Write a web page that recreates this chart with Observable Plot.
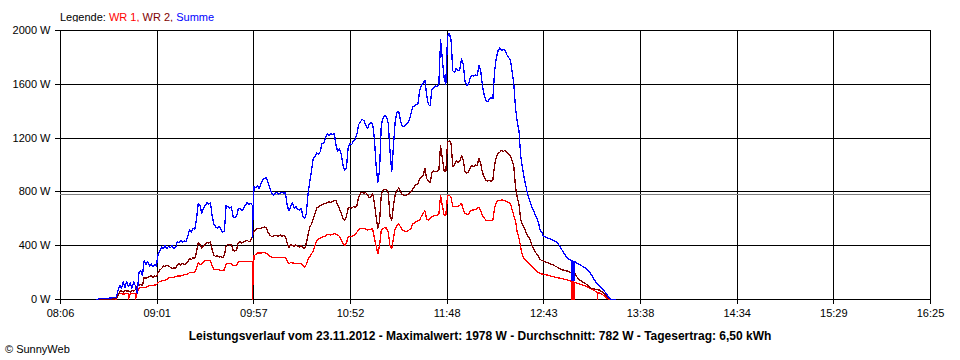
<!DOCTYPE html>
<html><head><meta charset="utf-8">
<script src="https://cdn.jsdelivr.net/npm/d3@7"></script>
<script src="https://cdn.jsdelivr.net/npm/@observablehq/plot@0.6"></script>
<style>
body{margin:0;background:#fff;font-family:"Liberation Sans",Arial,sans-serif;width:960px;height:360px;position:relative;overflow:hidden;color:#000}
#legend{position:absolute;left:60px;top:10px;font-size:11px;line-height:14px;white-space:nowrap}
#chart{position:absolute;left:0;top:22px}
#caption{position:absolute;left:0;width:960px;top:329px;text-align:center;font-weight:bold;font-size:12px;line-height:15px;white-space:nowrap}
#copy{position:absolute;left:5px;top:342px;font-size:11px;line-height:14px}
</style></head><body>
<div id="legend"></div>
<div id="chart"></div>
<div id="caption"></div>
<div id="copy">© SunnyWeb</div>
<script>
// ---- data ----
const seriesNames = ["WR 1", "WR 2", "Summe"];
const seriesColors = ["#ff0000", "#800000", "#0000ff"];
const xTickLabels = ["08:06","09:01","09:57","10:52","11:48","12:43","13:38","14:34","15:29","16:25"];
const yTicks = [0, 400, 800, 1200, 1600, 2000];
const dateLabel = "23.11.2012";
const maxW = 1978;
const averageW = 782;
const dailyYield = "6,50";

const wr1 = [
["08:27",0],["08:38",0],["08:39",40],["08:40",45],["08:42",40],["08:44",45],["08:45",40],["08:45",0],["08:46",45],["08:48",45],["08:49",40],["08:49",0],["08:50",50],
["08:51",85],["08:53",90],["08:55",90],["08:56",95],["08:57",105],["08:59",105],["09:01",110],["09:02",125],["09:03",135],["09:05",140],["09:07",150],["09:08",160],
["09:09",165],["09:11",165],["09:13",175],["09:15",175],["09:17",185],["09:19",190],["09:20",200],["09:22",200],["09:23",205],["09:24",230],["09:25",275],["09:26",260],
["09:27",265],["09:28",280],["09:29",290],["09:31",290],["09:32",285],["09:33",250],["09:34",220],["09:36",225],["09:38",215],["09:40",220],["09:41",265],["09:42",270],
["09:44",270],["09:45",250],["09:47",255],["09:48",280],["09:50",280],["09:52",285],["09:54",280],["09:56",280],["09:56",0],["09:57",325],["09:58",335],["09:59",345],
["10:01",345],["10:03",350],["10:04",345],["10:06",320],["10:08",310],["10:10",310],["10:13",315],["10:15",310],["10:16",290],["10:17",265],["10:18",275],["10:20",270],
["10:22",265],["10:24",270],["10:25",255],["10:26",240],["10:27",260],["10:28",300],["10:29",320],["10:30",340],["10:31",360],["10:32",400],["10:33",440],["10:34",450],
["10:35",455],["10:36",465],["10:38",470],["10:39",485],["10:41",480],["10:43",490],["10:44",485],["10:46",470],["10:47",440],["10:49",400],["10:50",420],["10:51",465],
["10:53",470],["10:55",480],["10:56",500],["10:57",520],["10:58",530],["11:00",530],["11:02",515],["11:03",520],["11:05",525],["11:06",460],["11:07",400],["11:08",340],
["11:09",400],["11:10",520],["11:12",535],["11:13",530],["11:14",500],["11:15",400],["11:16",380],["11:17",460],["11:18",530],["11:20",565],["11:21",540],["11:22",515],
["11:24",505],["11:25",510],["11:27",525],["11:28",560],["11:30",580],["11:32",590],["11:33",620],["11:34",640],["11:35",660],["11:36",600],["11:37",590],["11:39",615],
["11:41",625],["11:43",630],["11:44",775],["11:45",700],["11:46",630],["11:47",625],["11:48",770],["11:49",775],["11:50",760],["11:51",690],["11:53",690],["11:55",700],
["11:56",715],["11:57",670],["11:58",640],["12:00",630],["12:01",660],["12:04",670],["12:06",685],["12:07",660],["12:08",625],["12:10",590],["12:13",585],["12:14",590],
["12:15",680],["12:16",720],["12:17",735],["12:19",740],["12:21",735],["12:23",720],["12:24",715],["12:25",670],["12:26",625],["12:27",580],["12:28",500],["12:29",455],
["12:30",385],["12:31",325],["12:32",305],["12:34",275],["12:37",240],["12:40",200],["12:42",190],["12:45",182],["12:50",165],["12:54",155],["12:58",140],
["12:59",135],["12:59",0],["12:59",135],["13:00",130],["13:00",0],["13:00",130],["13:01",127],["13:01",0],["13:01",125],["13:03",120],["13:07",100],["13:10",82],
["13:13",60],["13:14",50],["13:14",0],["13:14",50],["13:16",45],["13:18",25],["13:20",5],["13:21",0]
];

const wr2 = [
["08:27",0],["08:38",5],["08:39",30],["08:40",60],["08:41",65],["08:42",55],["08:43",70],["08:44",60],["08:45",65],["08:46",55],["08:47",70],["08:48",60],["08:49",75],
["08:50",100],["08:51",105],["08:52",110],["08:53",105],["08:54",165],["08:55",155],["08:56",165],["08:57",170],["08:58",180],["08:59",165],["09:00",175],["09:01",170],
["09:02",200],["09:03",220],["09:04",230],["09:05",250],["09:06",245],["09:07",255],["09:08",250],["09:09",240],["09:10",230],["09:11",235],["09:12",230],["09:13",260],
["09:14",265],["09:15",255],["09:16",270],["09:17",260],["09:18",265],["09:19",280],["09:20",305],["09:21",295],["09:22",310],["09:23",305],["09:24",350],["09:25",425],
["09:26",410],["09:27",380],["09:28",400],["09:29",410],["09:30",425],["09:31",420],["09:32",430],["09:33",370],["09:34",330],["09:35",320],["09:36",325],["09:37",315],
["09:38",320],["09:39",310],["09:40",330],["09:41",400],["09:42",410],["09:43",405],["09:44",410],["09:45",365],["09:46",360],["09:47",370],["09:48",425],["09:49",430],
["09:50",420],["09:51",430],["09:52",435],["09:53",440],["09:54",430],["09:55",435],["09:56",470],["09:57",510],["09:58",520],["09:59",530],["10:00",525],["10:01",530],
["10:02",535],["10:03",540],["10:04",535],["10:05",500],["10:06",480],["10:07",470],["10:08",470],["10:09",475],["10:10",475],["10:11",470],["10:12",480],["10:13",470],
["10:14",475],["10:15",470],["10:16",420],["10:17",385],["10:18",410],["10:19",400],["10:20",395],["10:21",405],["10:22",395],["10:23",390],["10:24",400],["10:25",385],
["10:26",380],["10:27",420],["10:28",480],["10:29",540],["10:30",560],["10:31",600],["10:32",640],["10:33",680],["10:34",690],["10:35",700],["10:36",705],["10:37",710],
["10:38",715],["10:39",720],["10:40",725],["10:41",720],["10:42",730],["10:43",735],["10:44",735],["10:45",700],["10:46",675],["10:47",640],["10:48",600],["10:49",590],
["10:50",620],["10:51",680],["10:52",685],["10:53",680],["10:54",690],["10:55",685],["10:56",700],["10:57",760],["10:58",790],["10:59",795],["11:00",790],["11:01",795],
["11:02",780],["11:03",760],["11:04",760],["11:05",790],["11:06",720],["11:07",620],["11:08",530],["11:09",580],["11:10",780],["11:11",810],["11:12",820],["11:13",815],
["11:14",790],["11:15",620],["11:16",590],["11:17",700],["11:18",780],["11:19",810],["11:20",830],["11:21",800],["11:22",780],["11:23",775],["11:24",775],["11:25",780],
["11:26",790],["11:27",800],["11:28",820],["11:29",840],["11:30",855],["11:31",860],["11:32",900],["11:33",910],["11:34",920],["11:35",975],["11:36",900],["11:37",880],
["11:38",870],["11:39",940],["11:40",955],["11:41",950],["11:42",955],["11:43",960],["11:44",1145],["11:45",1050],["11:46",960],["11:47",950],["11:48",1170],["11:49",1180],
["11:50",1160],["11:51",990],["11:52",1000],["11:53",1030],["11:54",1020],["11:55",1030],["11:56",1070],["11:57",1040],["11:58",950],["11:59",940],["12:00",950],
["12:01",980],["12:02",995],["12:03",990],["12:04",1000],["12:05",995],["12:06",1050],["12:07",1010],["12:08",945],["12:09",910],["12:10",885],["12:11",880],["12:12",885],
["12:13",880],["12:14",890],["12:15",1000],["12:16",1060],["12:17",1085],["12:18",1095],["12:19",1110],["12:20",1100],["12:21",1110],["12:22",1095],["12:23",1080],
["12:24",1070],["12:25",1030],["12:26",990],["12:27",830],["12:28",760],["12:29",700],["12:30",590],["12:31",555],["12:32",530],["12:33",500],["12:34",470],["12:35",455],
["12:36",420],["12:37",385],["12:38",360],["12:39",340],["12:40",325],["12:41",300],["12:42",290],["12:45",275],["12:48",260],["12:51",240],["12:54",220],["12:57",210],
["12:59",200],["12:59",160],["13:00",200],["13:00",160],["13:01",195],["13:03",150],["13:07",120],["13:10",85],["13:13",75],["13:15",70],["13:17",55],["13:19",30],
["13:21",5],["13:22",0]
];

const summe = [
["08:27",0],["08:29",8],["08:34",10],["08:38",15],["08:39",70],["08:40",104],["08:41",85],["08:42",130],["08:43",90],["08:44",135],["08:45",95],["08:46",125],["08:47",85],
["08:48",130],["08:49",100],["08:50",45],["08:51",200],["08:52",215],["08:53",180],["08:54",290],["08:55",260],["08:56",285],["08:57",250],["08:58",265],["08:59",245],
["09:00",260],["09:01",250],["09:02",340],["09:03",360],["09:04",390],["09:05",380],["09:06",400],["09:07",380],["09:08",395],["09:09",385],["09:10",400],["09:11",380],
["09:12",385],["09:13",430],["09:14",420],["09:15",440],["09:16",425],["09:17",435],["09:18",430],["09:19",470],["09:20",520],["09:21",500],["09:22",530],["09:23",520],
["09:24",600],["09:25",715],["09:26",700],["09:27",640],["09:28",680],["09:29",700],["09:30",720],["09:31",710],["09:32",720],["09:33",620],["09:34",560],["09:35",540],
["09:36",530],["09:37",545],["09:38",520],["09:39",500],["09:40",510],["09:41",700],["09:42",690],["09:43",680],["09:44",690],["09:45",615],["09:46",610],["09:47",620],
["09:48",675],["09:49",680],["09:50",660],["09:51",675],["09:52",700],["09:53",720],["09:54",705],["09:55",715],["09:56",700],["09:56",460],["09:57",840],["09:58",830],
["09:59",845],["10:00",825],["10:01",860],["10:02",895],["10:03",900],["10:04",905],["10:05",870],["10:06",830],["10:07",795],["10:08",775],["10:09",790],["10:10",795],
["10:11",785],["10:12",790],["10:13",795],["10:14",790],["10:15",795],["10:16",700],["10:17",660],["10:18",690],["10:19",720],["10:20",680],["10:21",690],["10:22",670],
["10:23",665],["10:24",680],["10:25",620],["10:26",600],["10:27",640],["10:28",790],["10:29",880],["10:30",960],["10:31",1050],["10:32",1060],["10:33",1090],["10:34",1080],
["10:35",1100],["10:36",1160],["10:37",1165],["10:38",1200],["10:39",1230],["10:40",1220],["10:41",1235],["10:42",1225],["10:43",1235],["10:44",1150],["10:45",1100],
["10:46",1120],["10:47",1085],["10:48",1000],["10:49",960],["10:50",980],["10:51",1130],["10:52",1160],["10:53",1150],["10:54",1180],["10:55",1190],["10:56",1230],
["10:57",1300],["10:58",1320],["10:59",1340],["11:00",1330],["11:01",1300],["11:02",1270],["11:03",1300],["11:04",1315],["11:05",1310],["11:06",1200],["11:07",1000],
["11:08",870],["11:09",960],["11:10",1300],["11:11",1350],["11:12",1370],["11:13",1360],["11:14",1310],["11:15",1100],["11:16",950],["11:17",1150],["11:18",1330],
["11:19",1390],["11:20",1400],["11:21",1330],["11:22",1290],["11:23",1285],["11:24",1300],["11:25",1310],["11:26",1330],["11:27",1380],["11:28",1430],["11:29",1440],
["11:30",1450],["11:31",1455],["11:32",1555],["11:33",1590],["11:34",1610],["11:35",1630],["11:36",1520],["11:37",1450],["11:38",1440],["11:39",1560],["11:40",1570],
["11:41",1590],["11:42",1580],["11:43",1600],["11:44",1930],["11:45",1790],["11:46",1650],["11:47",1600],["11:48",1960],["11:49",1978],["11:50",1930],["11:51",1700],
["11:52",1690],["11:53",1720],["11:54",1700],["11:55",1710],["11:56",1790],["11:57",1750],["11:58",1620],["11:59",1590],["12:00",1600],["12:01",1650],["12:02",1665],
["12:03",1660],["12:04",1670],["12:05",1665],["12:06",1740],["12:07",1700],["12:08",1590],["12:09",1520],["12:10",1480],["12:11",1470],["12:12",1490],["12:13",1500],
["12:14",1495],["12:15",1700],["12:16",1800],["12:17",1850],["12:18",1870],["12:19",1850],["12:20",1860],["12:21",1850],["12:22",1820],["12:23",1800],["12:24",1780],
["12:25",1700],["12:26",1600],["12:27",1420],["12:28",1320],["12:29",1250],["12:30",1060],["12:31",980],["12:32",900],["12:33",840],["12:34",775],["12:35",740],
["12:36",700],["12:37",670],["12:38",640],["12:39",610],["12:40",580],["12:41",520],["12:42",500],["12:43",470],["12:45",460],["12:48",445],["12:51",425],["12:54",360],
["12:56",320],["12:58",295],["12:59",290],["12:59",140],["12:59",290],["13:00",285],["13:00",140],["13:00",285],["13:01",280],["13:01",140],["13:01",280],["13:03",265],
["13:07",235],["13:10",195],["13:13",130],["13:17",75],["13:19",45],["13:20",25],["13:21",5],["13:22",0],["13:24",0]
];

// ---- helpers ----
const toMin = s => { const [h, m] = s.split(":").map(Number); return h * 60 + m; };
const xStart = toMin(xTickLabels[0]);
const xEnd = toMin(xTickLabels[xTickLabels.length - 1]);
const xTickPos = xTickLabels.map((_, i) => xStart + i * (xEnd - xStart) / (xTickLabels.length - 1));
const fmtW = d => `${d} W`;

document.getElementById("legend").innerHTML =
  `Legende: <span style="color:${seriesColors[0]}">${seriesNames[0]},</span> <span style="color:${seriesColors[1]}">${seriesNames[1]},</span> <span style="color:${seriesColors[2]}">${seriesNames[2]}</span>`;
document.getElementById("caption").textContent =
  `Leistungsverlauf vom ${dateLabel} - Maximalwert: ${maxW} W - Durchschnitt: ${averageW} W - Tagesertrag: ${dailyYield} kWh`;

const lineOpts = (color) => ({x: d => toMin(d[0]), y: d => d[1], stroke: color, strokeWidth: 1.3, curve: "linear", shapeRendering: "crispEdges"});

const chart = Plot.plot({
  width: 960,
  height: 300,
  marginLeft: 60,
  marginRight: 30,
  marginTop: 8,
  marginBottom: 23,
  style: {fontFamily: "'Liberation Sans', Arial, sans-serif", fontSize: "11px", color: "#000", background: "#fff"},
  x: {domain: [xStart, xEnd]},
  y: {domain: [0, 2000]},
  marks: [
    Plot.ruleY(yTicks, {stroke: "#000", strokeWidth: 1, shapeRendering: "crispEdges"}),
    Plot.ruleX(xTickPos, {stroke: "#000", strokeWidth: 1, shapeRendering: "crispEdges"}),
    Plot.ruleY([averageW], {stroke: "#808080", strokeWidth: 1, shapeRendering: "crispEdges"}),
    Plot.axisX({ticks: xTickPos, tickFormat: (d, i) => xTickLabels[i], tickSize: 5, tickPadding: 5, stroke: "#000", label: null, shapeRendering: "crispEdges"}),
    Plot.axisY({ticks: yTicks, tickFormat: fmtW, tickSize: 5, tickPadding: 5, stroke: "#000", label: null, shapeRendering: "crispEdges"}),
    Plot.line(wr1, lineOpts(seriesColors[0])),
    Plot.line(wr2, lineOpts(seriesColors[1])),
    Plot.line(summe, lineOpts(seriesColors[2]))
  ]
});
document.getElementById("chart").appendChild(chart);
</script>
</body></html>
